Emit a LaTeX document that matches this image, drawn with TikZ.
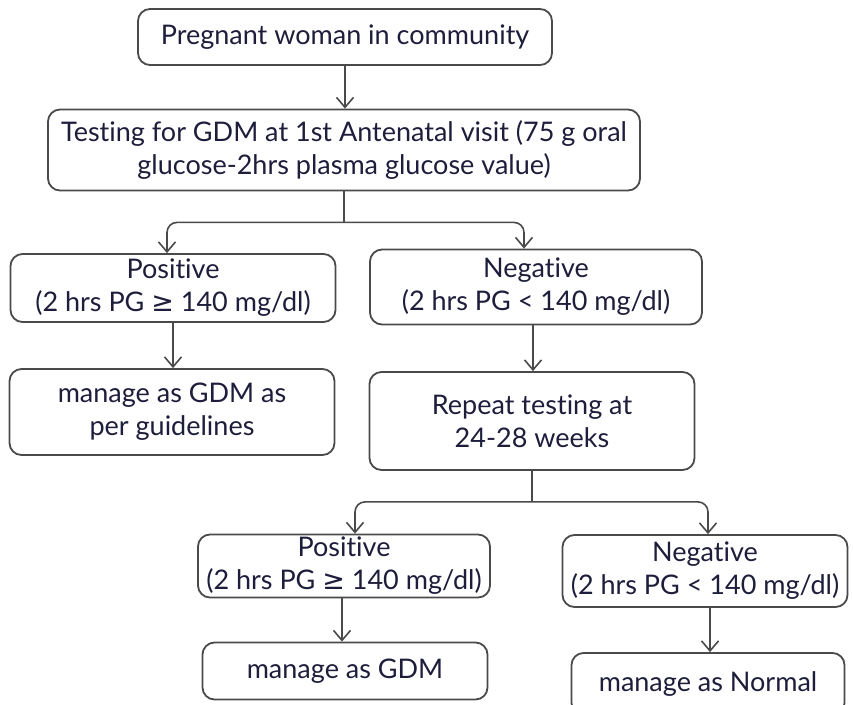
\documentclass[tikz,border=0pt]{standalone}
\usepackage{fontspec}
\setmainfont[Ligatures=NoCommon]{Lato}
\newfontfamily\symfont{DejaVu Sans}
\usetikzlibrary{arrows.meta}
\definecolor{inkblue}{HTML}{1E1E3C}
\definecolor{edgegray}{HTML}{4A4A4A}
\newcommand{\geqsym}{{\symfont ≥}}
\begin{document}
\begin{tikzpicture}[x=1pt,y=-1pt,
  box/.style={draw=edgegray, line width=1.8pt, rounded corners=12pt, text=inkblue,
    align=center, font=\fontsize{27}{33}\selectfont, inner sep=0pt},
  flow/.style={draw=edgegray, line width=1.6pt, rounded corners=10pt,
    -{Straight Barb[length=10pt,width=17pt]}},
  link/.style={draw=edgegray, line width=1.6pt}]
\useasboundingbox (0,0) rectangle (853,704);
\clip (0,0) rectangle (853,704);
\fill[white] (0,0) rectangle (853,704);

% boxes
\node[box, minimum width=414, minimum height=56] (start) at (345,37) {Pregnant woman in community};
\node[box, minimum width=592, minimum height=81] (test) at (344,150)
  {Testing for GDM at 1st Antenatal visit (75 g oral\\glucose-2hrs plasma glucose value)};
\node[box, minimum width=325, minimum height=68] (pos1) at (173,288)
  {Positive\\(2 hrs PG \geqsym{} 140 mg/dl)};
\node[box, minimum width=332, minimum height=75] (neg1) at (536,287)
  {Negative\\(2 hrs PG < 140 mg/dl)};
\node[box, minimum width=325, minimum height=86] (gdm1) at (172,412)
  {manage as GDM as\\per guidelines};
\node[box, minimum width=325, minimum height=98] (repeat) at (532,421)
  {Repeat testing at\\24-28 weeks};
\node[box, minimum width=292, minimum height=63] (pos2) at (344,566)
  {Positive\\(2 hrs PG \geqsym{} 140 mg/dl)};
\node[box, minimum width=285, minimum height=72] (neg2) at (705,571)
  {Negative\\(2 hrs PG < 140 mg/dl)};
\node[box, minimum width=285, minimum height=57] (gdm2) at (345,671) {manage as GDM};
\node[box, minimum width=273, minimum height=62] (normal) at (708,684) {manage as Normal};

% connectors
\draw[flow] (start.south) -- (start.south |- test.north);
\draw[link] (test.south) -- ++(0,31) coordinate (split1);
\draw[flow] (split1) -| ([xshift=-6pt]pos1.north);
\draw[flow] (split1) -| ([xshift=-12pt]neg1.north);
\draw[flow] (pos1.south) -- (pos1.south |- gdm1.north);
\draw[flow] ([xshift=-3pt]neg1.south) -- ([xshift=-3pt]neg1.south |- repeat.north);
\draw[link] (repeat.south) -- ++(0,31) coordinate (split2);
\draw[flow] (split2) -| ([xshift=11pt]pos2.north);
\draw[flow] (split2) -| ([xshift=3pt]neg2.north);
\draw[flow] ([xshift=-2pt]pos2.south) -- ([xshift=-2pt]pos2.south |- gdm2.north);
\draw[flow] ([xshift=5pt]neg2.south) -- ([xshift=5pt]neg2.south |- normal.north);
\end{tikzpicture}
\end{document}
